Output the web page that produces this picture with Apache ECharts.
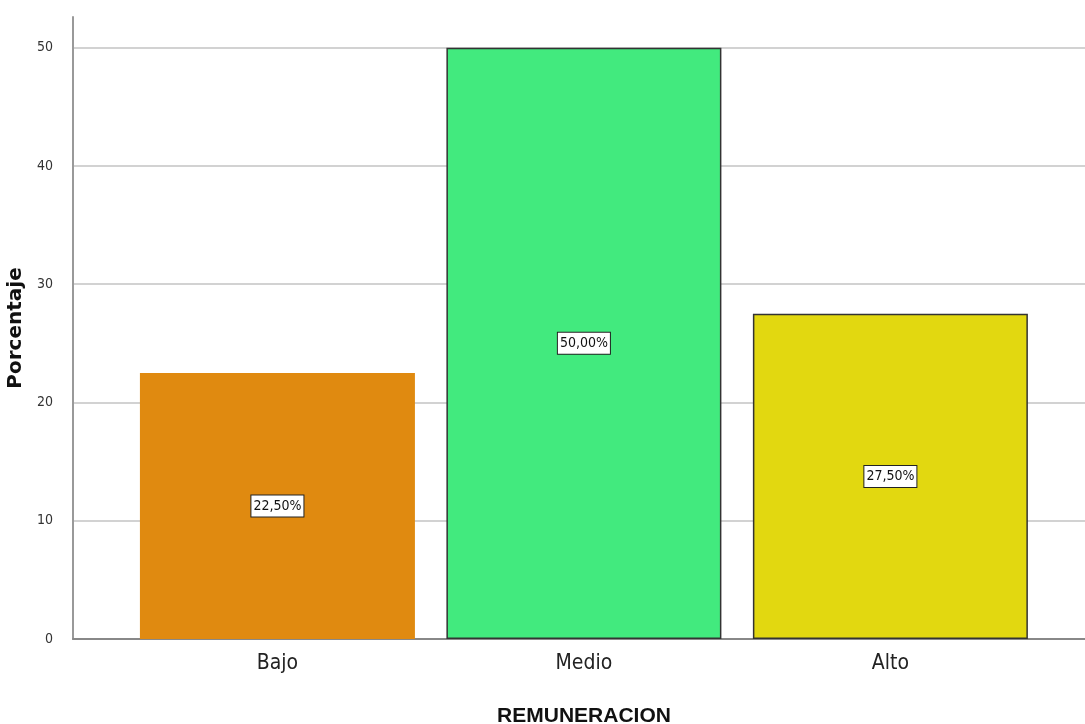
<!DOCTYPE html>
<html>
<head>
<meta charset="utf-8">
<script src="https://cdn.jsdelivr.net/npm/echarts@6/dist/echarts.min.js"></script>
<style>
  html, body { margin: 0; padding: 0; background: #fff; }
  #chart { width: 1085px; height: 724px; }
</style>
</head>
<body>
<div id="chart"></div>
<script>
// Remuneración: distribución porcentual por nivel
const categories = ['Bajo', 'Medio', 'Alto'];
const percentages = [22.5, 50.0, 27.5];
const barColors = ['#E08A10', '#42EA7E', '#E2D810'];
const barBorders = [null, '#333333', '#333333'];

const narrow = '"Liberation Sans Narrow", "DejaVu Sans Condensed", "Arial Narrow", "Liberation Sans", sans-serif';

const chart = echarts.init(document.getElementById('chart'), null, { renderer: 'canvas' });

const barData = percentages.map((v, i) => ({
  value: [i, v],
  itemStyle: {
    color: barColors[i],
    borderColor: barBorders[i] || barColors[i],
    borderWidth: barBorders[i] ? 1.5 : 0
  }
}));

chart.setOption({
  animation: false,
  grid: { left: 73, right: 0, top: 17, bottom: 85, containLabel: false, outerBoundsMode: 'none' },
  xAxis: {
    type: 'value',
    min: -0.667,
    max: 2.635,
    name: 'REMUNERACION',
    nameLocation: 'middle',
    nameGap: 67,
    nameTextStyle: {
      fontFamily: '"Liberation Sans", Arial, sans-serif', fontWeight: 'bold', fontSize: 21, color: '#111',
      padding: [0, 0, 0, 10]
    },
    axisLine: { show: true, onZero: false, lineStyle: { color: '#888', width: 2 } },
    axisTick: { show: false },
    splitLine: { show: false },
    axisLabel: {
      customValues: [0, 1, 2],
      formatter: v => categories[Math.round(v)],
      fontFamily: narrow,
      fontSize: 21,
      color: '#222',
      margin: 14
    }
  },
  yAxis: {
    type: 'value',
    min: 0,
    max: 52.6,
    interval: 10,
    name: 'Porcentaje',
    nameLocation: 'middle',
    nameGap: 44,
    nameRotate: 90,
    nameTextStyle: { fontFamily: '"DejaVu Sans", sans-serif', fontWeight: 'bold', fontSize: 20, color: '#111' },
    axisLine: { show: true, onZero: false, lineStyle: { color: '#999', width: 2 } },
    axisTick: { show: false },
    axisLabel: {
      showMaxLabel: false,
      fontFamily: narrow,
      fontSize: 14,
      color: '#333',
      margin: 20
    },
    splitLine: { show: true, showMaxLine: false, showMinLine: false, lineStyle: { color: '#d2d2d2', width: 2 } }
  },
  series: [{
    type: 'bar',
    barWidth: 275,
    data: barData,
    label: {
      show: true,
      position: 'inside',
      formatter: p => p.value[1].toFixed(2).replace('.', ',') + '%',
      fontFamily: narrow,
      fontSize: 14,
      color: '#111',
      backgroundColor: '#fff',
      borderColor: '#222',
      borderWidth: 1,
      padding: [4, 2, 3, 2]
    }
  }]
});
</script>
</body>
</html>
